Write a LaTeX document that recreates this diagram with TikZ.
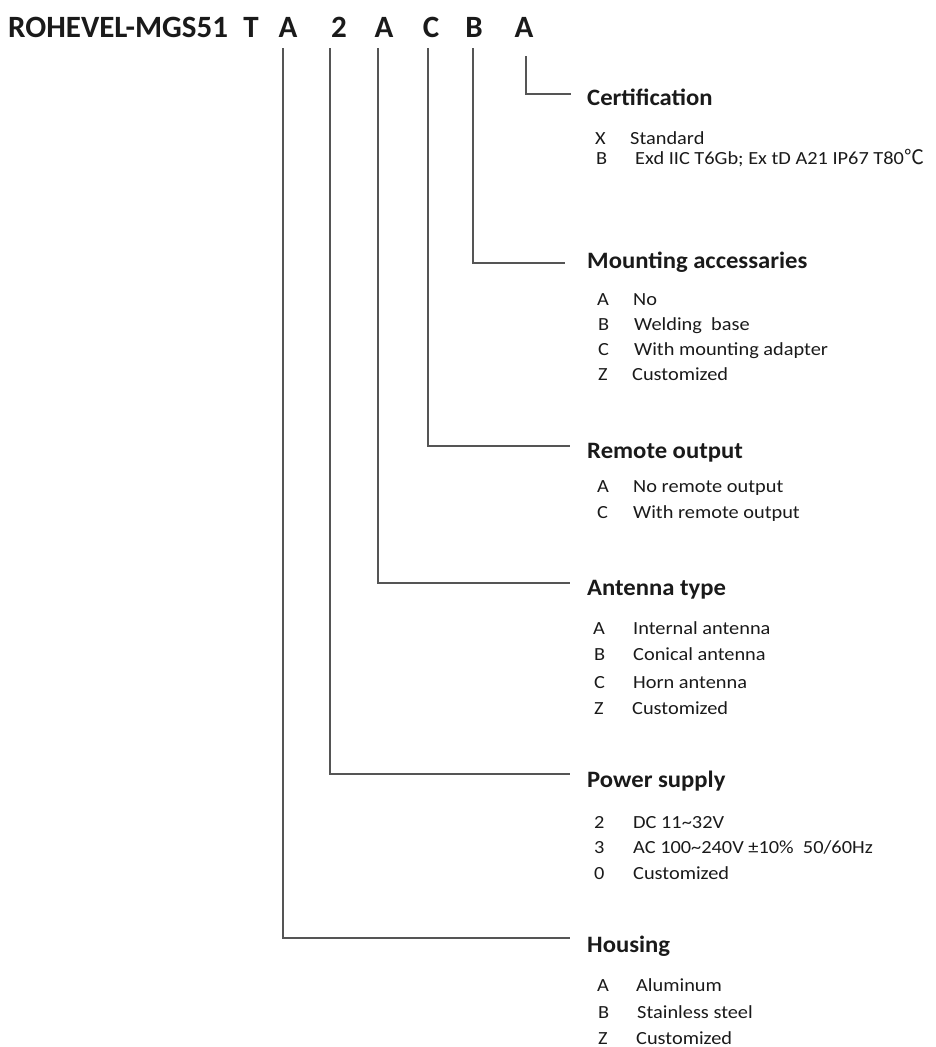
\documentclass[tikz,border=0pt]{standalone}
\usepackage{fontspec}
\setmainfont{Carlito}
\newfontfamily\itemfont{Carlito}[FakeStretch=1.1]
\newfontfamily\headfont{Carlito}[FakeStretch=1.05]
\newfontfamily\cjkf{Noto Sans CJK SC}
\definecolor{txt}{HTML}{1A1A1A}
\definecolor{ln}{HTML}{555555}
\begin{document}
\begin{tikzpicture}[x=1pt,y=-1pt,
  ttl/.style={font=\bfseries\fontsize{31}{36}\selectfont,text=txt,inner sep=0pt,anchor=base},
  head/.style={font=\headfont\bfseries\fontsize{23.5}{26}\selectfont,text=txt,inner sep=0pt,anchor=base west},
  item/.style={font=\itemfont\fontsize{18.5}{21}\selectfont,text=txt,inner sep=0pt,anchor=base west},
  lead/.style={draw=ln,line width=1.3pt}]
\useasboundingbox (0,0) rectangle (935,1047);
% title
\node[ttl,anchor=base west] (tmain) at (8,37) {ROHEVEL-MGS51};
\node[ttl] (tT) at (251,37) {T};
\node[ttl] (tA1) at (288,37) {A};
\node[ttl] (t2) at (339,37) {2};
\node[ttl] (tA2) at (384,37) {A};
\node[ttl] (tC) at (431,37) {C};
\node[ttl] (tB) at (474,37) {B};
\node[ttl] (tA3) at (524,37) {A};
% headings
\node[head] (hcert) at (587,105) {Certification};
\node[head] (hmount) at (587,268) {Mounting accessaries};
\node[head] (hremote) at (587,458) {Remote output};
\node[head] (hant) at (587,595) {Antenna type};
\node[head] (hpow) at (587,787) {Power supply};
\node[head] (hhous) at (587,952) {Housing};
% leader coordinates
\coordinate (s6) at (526,56);  \coordinate (e6) at (571,94);
\coordinate (s5) at (473,48);  \coordinate (e5) at (565,263);
\coordinate (s4) at (428,48);  \coordinate (e4) at (570,446);
\coordinate (s3) at (378,48);  \coordinate (e3) at (570,583);
\coordinate (s2) at (330,48);  \coordinate (e2) at (570,774);
\coordinate (s1) at (283,48);  \coordinate (e1) at (570,938);
\foreach \i in {1,...,6} {\draw[lead] (s\i) |- (e\i);}
% certification
\node[item] (c1k) at (595,144) {X};
\node[item] (c1v) at (630,144) {Standard};
\node[item] (c2k) at (596,164) {B};
\node[item] (c2v) at (635,164) {Exd IIC T6Gb; Ex tD A21 IP67 T80{\cjkf\fontsize{20}{20}\selectfont ℃}};
% mounting
\node[item] (m1k) at (597,305) {A};
\node[item] (m1v) at (633,305) {No};
\node[item] (m2k) at (598,330) {B};
\node[item] (m2v) at (634,330) {Welding\ \ base};
\node[item] (m3k) at (598,355) {C};
\node[item] (m3v) at (634,355) {With mounting adapter};
\node[item] (m4k) at (598,380) {Z};
\node[item] (m4v) at (632,380) {Customized};
% remote
\node[item] (r1k) at (597,492) {A};
\node[item] (r1v) at (633,492) {No remote output};
\node[item] (r2k) at (597,518) {C};
\node[item] (r2v) at (633,518) {With remote output};
% antenna
\node[item] (a1k) at (593,634) {A};
\node[item] (a1v) at (633,634) {Internal antenna};
\node[item] (a2k) at (594,660) {B};
\node[item] (a2v) at (633,660) {Conical antenna};
\node[item] (a3k) at (594,688) {C};
\node[item] (a3v) at (633,688) {Horn antenna};
\node[item] (a4k) at (594,714) {Z};
\node[item] (a4v) at (632,714) {Customized};
% power
\node[item] (p1k) at (594,828) {2};
\node[item] (p1v) at (633,828) {DC 11\textasciitilde32V};
\node[item] (p2k) at (594,853) {3};
\node[item] (p2v) at (633,853) {AC 100\textasciitilde240V ±10\%\ \ 50/60Hz};
\node[item] (p3k) at (594,879) {0};
\node[item] (p3v) at (633,879) {Customized};
% housing
\node[item] (h1k) at (597,991) {A};
\node[item] (h1v) at (636,991) {Aluminum};
\node[item] (h2k) at (598,1018) {B};
\node[item] (h2v) at (637,1018) {Stainless steel};
\node[item] (h3k) at (598,1044) {Z};
\node[item] (h3v) at (636,1044) {Customized};
\end{tikzpicture}
\end{document}
